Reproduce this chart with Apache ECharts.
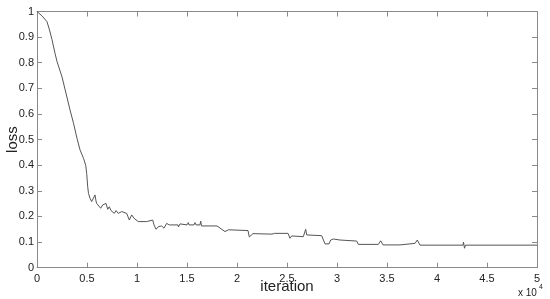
<!DOCTYPE html>
<html>
<head>
<meta charset="utf-8">
<script src="https://cdn.jsdelivr.net/npm/echarts@6/dist/echarts.min.js"></script>
<style>
html,body{margin:0;padding:0;background:#fff;}
#c{width:550px;height:299px;}
</style>
</head>
<body>
<div id="c"></div>
<script>
// iteration (x 10^4)
var iterations = [0,0.05,0.1,0.125,0.15,0.18,0.2,0.25,0.33,0.365,0.4,0.43,0.465,0.487,0.497,0.507,0.515,0.53,0.547,0.563,0.58,0.59,0.597,0.613,0.637,0.657,0.673,0.69,0.707,0.723,0.74,0.757,0.773,0.79,0.813,0.847,0.87,0.897,0.923,0.947,0.97,0.99,1.013,1.097,1.105,1.157,1.17,1.19,1.213,1.247,1.27,1.297,1.323,1.41,1.415,1.43,1.5,1.513,1.52,1.57,1.58,1.59,1.63,1.637,1.645,1.76,1.78,1.8,1.88,1.9,1.913,1.925,2.11,2.123,2.16,2.35,2.363,2.375,2.51,2.53,2.547,2.56,2.663,2.687,2.697,2.71,2.847,2.88,2.92,2.937,2.963,3.03,3.05,3.197,3.213,3.413,3.437,3.46,3.63,3.637,3.78,3.803,3.83,4.26,4.265,4.275,4.285,5.0];
var loss = [1.0,0.983,0.96,0.928,0.89,0.837,0.805,0.745,0.616,0.564,0.505,0.46,0.427,0.40,0.368,0.316,0.29,0.271,0.258,0.251,0.284,0.26,0.251,0.258,0.232,0.245,0.238,0.251,0.228,0.238,0.223,0.228,0.212,0.223,0.212,0.219,0.216,0.212,0.186,0.206,0.193,0.197,0.18,0.18,0.186,0.186,0.167,0.15,0.16,0.163,0.154,0.173,0.167,0.167,0.159,0.171,0.167,0.176,0.167,0.167,0.176,0.167,0.167,0.182,0.163,0.163,0.17,0.163,0.141,0.141,0.148,0.145,0.145,0.12,0.133,0.131,0.138,0.134,0.134,0.115,0.124,0.121,0.121,0.15,0.128,0.125,0.125,0.093,0.093,0.108,0.112,0.108,0.104,0.104,0.091,0.091,0.105,0.089,0.089,0.095,0.095,0.108,0.088,0.088,0.1,0.076,0.088,0.088];
var xTicks = [0,0.5,1,1.5,2,2.5,3,3.5,4,4.5,5];
var yTicks = [0,0.1,0.2,0.3,0.4,0.5,0.6,0.7,0.8,0.9,1];
var xName = 'iteration';
var yName = 'loss';

var pts = iterations.map(function(x,i){return [x, loss[i]];});
var font = 'Liberation Sans, Arial, Helvetica, sans-serif';
var axisCol = '#8a8a8a';
var txtCol = '#222';
var chart = echarts.init(document.getElementById('c'), null, {renderer:'canvas'});
function axisBase(pos, showLabel, isX){
  var t = isX ? xTicks : yTicks;
  return {
    type:'value', position:pos, min:t[0], max:t[t.length-1], interval:t[1]-t[0],
    axisLine:{show:true, onZero:false, lineStyle:{color:axisCol, width:1}},
    axisTick:{show:true, inside:true, length:5, lineStyle:{color:axisCol}},
    splitLine:{show:false},
    axisLabel:{show:showLabel, color:txtCol, fontFamily:font, fontSize:11, margin: isX?6:3,
      formatter:function(v){return String(+v.toFixed(1));}}
  };
}
chart.setOption({
  animation:false,
  backgroundColor:'#fff',
  grid:{left:37, right:13, top:11.5, bottom:31.3, containLabel:false, outerBoundsMode:'none'},
  xAxis:[axisBase('bottom', true, true), axisBase('top', false, true)],
  yAxis:[axisBase('left', true, false), axisBase('right', false, false)],
  graphic:[
    {type:'text', x:287, y:287, style:{text:xName, fontFamily:font, fontSize:15, fill:txtCol, align:'center', verticalAlign:'middle'}},
    {type:'text', x:12.5, y:139.6, rotation:Math.PI/2, style:{text:yName, fontFamily:font, fontSize:15, fill:txtCol, align:'center', verticalAlign:'middle'}},
    {type:'text', left:518, top:288, style:{text:'x 10', fontFamily:font, fontSize:10, fill:txtCol}},
    {type:'text', left:539, top:284, style:{text:'4', fontFamily:font, fontSize:7, fill:txtCol}}
  ],
  series:[{
    type:'line', data:pts, showSymbol:false, xAxisIndex:0, yAxisIndex:0,
    lineStyle:{color:'#555', width:1}, silent:true
  }]
});
</script>
</body>
</html>
